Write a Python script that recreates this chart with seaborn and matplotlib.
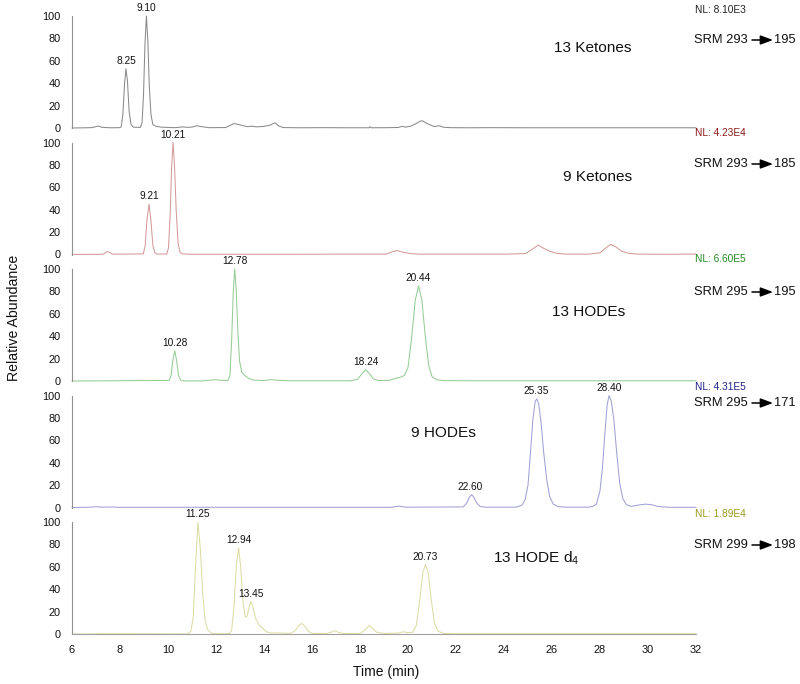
import matplotlib
matplotlib.use("Agg")
import matplotlib.pyplot as plt
import seaborn as sns
import pandas as pd
from matplotlib.ticker import MultipleLocator

# ---------------- data ----------------
ket13_t = [6.0, 6.8, 7.0, 7.1, 7.25, 7.6, 8.0, 8.05, 8.12, 8.19, 8.25, 8.31, 8.38, 8.46, 8.55, 8.85, 8.92, 8.98,
           9.04, 9.10, 9.16, 9.22, 9.29, 9.37, 9.5, 9.7, 10.0, 10.3, 10.6, 10.8, 11.0, 11.2, 11.4, 11.7, 12.4,
           12.6, 12.75, 12.9, 13.1, 13.3, 13.5, 13.7, 14.0, 14.25, 14.45, 14.6, 14.8, 15.5, 16.5, 17.5, 18.38,
           18.42, 18.46, 19.2, 19.6, 19.75, 19.9, 20.1, 20.3, 20.5, 20.6, 20.75, 20.9, 21.1, 21.3, 21.5, 21.8,
           22.5, 23.5, 25.0, 27.0, 29.0, 31.0, 32.0]
ket13_y = [0, 0.3, 1.2, 1.8, 0.6, 0.2, 0.3, 1, 12, 40, 53, 42, 15, 3, 0.8, 0.5, 5, 30,
           75, 100, 78, 38, 12, 3, 1.5, 0.8, 0.5, 0.3, 1.0, 0.6, 0.8, 2.0, 1.2, 0.3, 0.4,
           2.5, 4.0, 3.3, 2.2, 1.2, 1.6, 1.0, 1.5, 2.5, 4.7, 2.0, 0.4, 0.2, 0.3, 0.2, 0.2,
           1.2, 0.2, 0.3, 0.5, 1.5, 0.8, 1.5, 3.5, 6.0, 6.5, 4.5, 3.0, 1.2, 2.0, 0.6, 0.3,
           0.2, 0.3, 0.2, 0.2, 0.2, 0.2, 0.2]

ket9_t = [6.0, 7.3, 7.45, 7.55, 7.7, 8.97, 9.05, 9.12, 9.21, 9.29, 9.37, 9.45, 9.55, 9.95, 10.02, 10.09, 10.15,
          10.21, 10.27, 10.34, 10.42, 10.5, 10.6, 11.0, 13.0, 15.0, 17.0, 19.1, 19.35, 19.55, 19.8, 20.1, 20.5,
          22.0, 24.0, 24.9, 25.2, 25.43, 25.65, 25.9, 26.2, 26.6, 27.5, 28.0, 28.25, 28.45, 28.65, 28.9, 29.2,
          29.6, 31.0, 32.0]
ket9_y = [0, 0.2, 2.5, 2.0, 0.3, 0.5, 8, 30, 45, 30, 8, 1.5, 0.3, 0.5, 6, 35, 78,
          100, 80, 40, 10, 2, 0.5, 0.2, 0.2, 0.2, 0.3, 0.3, 2.5, 3.5, 2.0, 0.8, 0.3,
          0.3, 0.3, 0.8, 5, 8.5, 5.5, 3, 1.0, 0.3, 0.3, 1.5, 6, 9, 7, 3, 1.0,
          0.3, 0.2, 0.4]

hode13_t = [6.0, 10.05, 10.13, 10.2, 10.28, 10.36, 10.44, 10.52, 10.65, 11.5, 11.8, 12.0, 12.2, 12.5, 12.58,
            12.65, 12.72, 12.78, 12.84, 12.91, 12.98, 13.07, 13.2, 13.35, 13.55, 14.0, 14.3, 14.6, 15.0, 17.6,
            17.9, 18.1, 18.24, 18.38, 18.55, 18.75, 19.2, 19.5, 19.7, 19.85, 20.0, 20.15, 20.3, 20.44, 20.58,
            20.72, 20.86, 21.0, 21.2, 21.5, 23.0, 26.0, 29.0, 32.0]
hode13_y = [0, 0.5, 5, 18, 27, 18, 5, 0.8, 0, 0.2, 0.8, 1.2, 0.6, 0.5, 5,
            35, 80, 100, 82, 45, 18, 8, 5, 2.5, 0.8, 0.4, 1.2, 0.6, 0.2, 0.2,
            1.5, 7, 10, 7, 2, 0.4, 0.5, 2.5, 3.5, 5, 12, 38, 72, 85, 72,
            40, 14, 4, 1, 0.3, 0.2, 0.2, 0.2, 0.2]

hode9_t = [6.0, 6.8, 7.0, 7.2, 7.7, 7.9, 19.3, 19.6, 19.9, 22.3, 22.45, 22.55, 22.65, 22.75, 22.85, 23.0, 23.2,
           24.5, 24.75, 24.88, 25.0, 25.1, 25.2, 25.3, 25.37, 25.45, 25.55, 25.65, 25.78, 25.9, 26.05, 26.25,
           26.6, 27.5, 27.7, 27.85, 28.0, 28.1, 28.2, 28.3, 28.38, 28.47, 28.58, 28.7, 28.82, 28.95, 29.1,
           29.3, 29.6, 29.9, 30.15, 30.4, 30.8, 32.0]
hode9_y = [0, 0.3, 0.8, 0.3, 0.5, 0.2, 0.2, 1.2, 0.3, 0.5, 4, 9, 11.5, 9, 4.5, 1, 0.3,
           0.3, 2, 7, 20, 48, 78, 95, 97, 92, 75, 50, 25, 10, 3, 0.8,
           0.3, 0.3, 1, 3, 15, 35, 65, 92, 100, 95, 78, 48, 22, 8, 2.5,
           1.0, 2.2, 3.0, 2.5, 1, 0.2, 0.2]

d4_t = [6.0, 6.9, 7.0, 10.8, 10.95, 11.05, 11.15, 11.25, 11.35, 11.45, 11.55, 11.65, 11.8, 12.0, 12.55, 12.65,
        12.75, 12.85, 12.94, 13.03, 13.12, 13.22, 13.3, 13.38, 13.45, 13.53, 13.65, 13.8, 13.95, 14.1, 14.3,
        14.5, 14.8, 15.1, 15.3, 15.45, 15.57, 15.7, 15.85, 16.0, 16.6, 16.85, 16.96, 17.1, 17.3, 18.0, 18.2,
        18.38, 18.52, 18.7, 19.0, 19.6, 19.8, 20.0, 20.2, 20.35, 20.5, 20.62, 20.73, 20.84, 20.96, 21.1,
        21.25, 21.5, 22.0, 32.0]
d4_y = [0, 0, 0.2, 0, 2, 15, 62, 100, 75, 35, 12, 4, 1, 0.2, 0.3, 3,
        25, 62, 77, 60, 30, 15, 16, 24, 29, 25, 14, 8, 5, 2, 0.8,
        1, 0.8, 0.5, 3, 7.5, 9.5, 7, 2.5, 0.5, 0.3, 2, 3, 1.5, 0.5, 0.3, 3.5,
        7.5, 5, 1.5, 0.5, 0.8, 2, 1.2, 1.5, 8, 32, 55, 62, 55, 32, 10,
        2.5, 0.5, 0.2, 0.2]

panel_names = ["13 Ketones", "9 Ketones", "13 HODEs", "9 HODEs", r"13 HODE d$_{\mathregular{4}}$"]
nl_labels = ["NL: 8.10E3", "NL: 4.23E4", "NL: 6.60E5", "NL: 4.31E5", "NL: 1.89E4"]
srm_from = ["293", "293", "295", "295", "299"]
srm_to = ["195", "185", "195", "171", "198"]
peak_labels = [[8.25, 9.10], [9.21, 10.21], [10.28, 12.78, 18.24, 20.44],
               [22.60, 25.35, 28.40], [11.25, 12.94, 13.45, 20.73]]
peak_heights = [[53, 100], [45, 100], [27, 100, 10, 85], [11.5, 97, 100], [100, 77, 29, 62]]

traces = [(ket13_t, ket13_y), (ket9_t, ket9_y), (hode13_t, hode13_y), (hode9_t, hode9_y), (d4_t, d4_y)]
line_colors = ["#8a8a8a", "#d49a9a", "#96cc96", "#a0a0d6", "#dcdca4"]
nl_colors = ["#222222", "#8b1a1a", "#228b22", "#23238b", "#9a9a1e"]

# layout in pixels (from top)
name_pos = [(593, 48), (598, 177), (589, 312), (443, 433), (536, 558)]
srm_y = [40, 164, 292, 403, 545]
nl_y = [10, 133, 259, 387, 514]

# ---------------- figure ----------------
sns.set_style("white")
plt.rcParams["font.family"] = ["Liberation Sans", "DejaVu Sans"]
plt.rcParams["mathtext.fontset"] = "custom"
plt.rcParams["mathtext.rm"] = "Liberation Sans"
plt.rcParams["mathtext.it"] = "Liberation Sans:italic"

W, H = 800, 684
fig = plt.figure(figsize=(W / 100, H / 100), dpi=100)
left, right = 72 / W, 696 / W
bottom = (H - 634) / H
ph = 126.5 / H

axes = []
for i in range(5):
    b = bottom + (4 - i) * ph
    ax = fig.add_axes([left, b, right - left, ph])
    axes.append(ax)
    t, y = traces[i]
    df = pd.DataFrame({"time": t, "abundance": y})
    sns.lineplot(data=df, x="time", y="abundance", ax=ax, color=line_colors[i], lw=0.75,
                 estimator=None, sort=False)
    for ln in ax.lines:
        ln.set_clip_on(False)
        ln.set_solid_joinstyle("round")
    ax.set_xlim(6, 32)
    ax.set_ylim(0, 113)
    ax.set_xlabel("")
    ax.set_ylabel("")
    ax.patch.set_alpha(0)
    for s in ["top", "right"]:
        ax.spines[s].set_visible(False)
    ax.spines["left"].set_bounds(0, 100)
    ax.spines["left"].set_color("#909090")
    ax.spines["left"].set_linewidth(0.8)
    ax.yaxis.set_major_locator(MultipleLocator(20))
    ax.yaxis.set_minor_locator(MultipleLocator(5))
    ax.tick_params(axis="y", which="major", direction="out", length=5, width=0.7, color="#909090",
                   labelsize=7.9, pad=3, labelcolor="#111111")
    ax.tick_params(axis="y", which="minor", direction="out", length=2.5, width=0.6, color="#909090")
    ax.set_yticks([0, 20, 40, 60, 80, 100])
    if i < 4:
        ax.spines["bottom"].set_visible(False)
        ax.tick_params(axis="x", which="both", bottom=False, labelbottom=False)
    else:
        ax.spines["bottom"].set_color("#a0a0a0")
        ax.spines["bottom"].set_linewidth(0.8)
        ax.xaxis.set_major_locator(MultipleLocator(2))
        ax.xaxis.set_minor_locator(MultipleLocator(0.5))
        ax.tick_params(axis="x", which="major", direction="out", length=5, width=0.7, color="#909090",
                       labelsize=7.9, pad=3, labelcolor="#111111")
        ax.tick_params(axis="x", which="minor", direction="out", length=3, width=0.6, color="#909090")

    # peak labels
    for pt, phh in zip(peak_labels[i], peak_heights[i]):
        ax.annotate(f"{pt:.2f}", xy=(pt, phh), xytext=(0, 2), textcoords="offset points",
                    ha="center", va="bottom", fontsize=7.3, color="#111111")

    # compound name
    nx, ny = name_pos[i]
    fig.text(nx / W, 1 - ny / H, panel_names[i], ha="center", va="center", fontsize=11.1, color="#111111")

    # NL label
    fig.text(695 / W, 1 - nl_y[i] / H, nl_labels[i], ha="left", va="center", fontsize=7.3, color=nl_colors[i])

    # SRM label with arrow
    sy = 1 - srm_y[i] / H
    fig.text(694 / W, sy, f"SRM {srm_from[i]}", ha="left", va="center", fontsize=9.3, color="#111111")
    fig.text(774 / W, sy, srm_to[i], ha="left", va="center", fontsize=9.3, color="#111111")
    ax.annotate("", xy=(773, H - srm_y[i]), xytext=(752, H - srm_y[i]),
                xycoords="figure pixels", textcoords="figure pixels",
                arrowprops=dict(arrowstyle="-|>,head_length=0.75,head_width=0.28", color="black",
                                lw=1.1, shrinkA=0, shrinkB=0))

fig.text(14 / W, 1 - 318 / H, "Relative Abundance", rotation=90, ha="center", va="center",
         fontsize=10.2, color="#111111")
fig.text(386 / W, 1 - 672 / H, "Time (min)", ha="center", va="center", fontsize=10, color="#111111")

fig.savefig("out.png", dpi=100)
